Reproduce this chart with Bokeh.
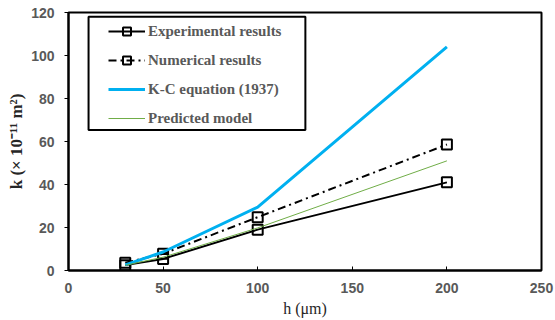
from bokeh.plotting import figure
from bokeh.models import Legend, LegendItem, Range1d, FixedTicker, BoxAnnotation
from bokeh.embed import file_html
from bokeh.resources import INLINE

h = [30, 50, 100, 200]
experimental = [2.5, 5.4, 19.0, 41.0]
numerical = [3.6, 7.8, 24.8, 58.6]
kc_equation = [2.6, 8.6, 29.5, 104.0]
predicted = [2.4, 6.2, 19.8, 51.0]

x_ticks = [0, 50, 100, 150, 200, 250]
y_ticks = [0, 20, 40, 60, 80, 100, 120]

p = figure(width=555, height=320, output_backend="svg", toolbar_location=None,
           x_range=Range1d(0, 250), y_range=Range1d(0, 120),
           min_border_left=68, min_border_right=14, min_border_top=12, min_border_bottom=50)
p.grid.visible = False
p.outline_line_color = "black"
p.outline_line_width = 2
p.background_fill_color = "white"
p.border_fill_color = "white"

r_exp_line = p.line(h, experimental, line_color="black", line_width=2)
r_exp_sq = p.scatter(h, experimental, marker="square", size=10, fill_color=None, line_color="black", line_width=2)
r_num_line = p.line(h, numerical, line_color="black", line_width=2, line_dash="8 4 2 4")
r_num_sq = p.scatter(h, numerical, marker="square", size=10, fill_color=None, line_color="black", line_width=2)
r_kc = p.line(h, kc_equation, line_color="#00B0F0", line_width=3)
r_pred = p.line(h, predicted, line_color="#70AD47", line_width=1)

for ax in (p.xaxis[0], p.yaxis[0]):
    ax.axis_line_color = "black"
    ax.axis_line_width = 2
    ax.major_tick_line_color = "black"
    ax.major_tick_line_width = 1
    ax.minor_tick_line_color = None
    ax.major_label_text_font = "Liberation Sans"
    ax.major_label_text_font_style = "bold"
    ax.major_label_text_font_size = "14px"
    ax.major_label_text_color = "#595959"
    ax.axis_label_text_font = "Liberation Serif"
    ax.axis_label_text_color = "#262626"

p.xaxis.ticker = FixedTicker(ticks=x_ticks)
p.yaxis.ticker = FixedTicker(ticks=y_ticks)
p.xaxis.major_tick_in = 4
p.xaxis.major_tick_out = 0
p.yaxis.major_tick_in = 0
p.yaxis.major_tick_out = 4
p.xaxis.major_label_standoff = 12
p.yaxis.major_label_standoff = 10
p.xaxis.axis_label = "h (μm)"
p.yaxis.axis_label = "k (× 10⁻¹¹ m²)"
p.yaxis.axis_label_text_font_style = "bold"
p.xaxis.axis_label_text_font_style = "normal"
p.yaxis.axis_label_text_font_size = "17px"
p.xaxis.axis_label_text_font_size = "16px"
p.xaxis.axis_label_standoff = 4
p.yaxis.axis_label_standoff = 2

# legend frame
p.add_layout(BoxAnnotation(left=10.6, right=125.2, bottom=65.4, top=118.0,
                           fill_color="white", fill_alpha=1,
                           line_color="black", line_width=2, line_alpha=1))

legend = Legend(items=[
    LegendItem(label="Experimental results", renderers=[r_exp_line, r_exp_sq]),
    LegendItem(label="Numerical results", renderers=[r_num_line, r_num_sq]),
    LegendItem(label="K-C equation (1937)", renderers=[r_kc]),
    LegendItem(label="Predicted model", renderers=[r_pred]),
], location=(40, 142))
legend.border_line_color = None
legend.background_fill_alpha = 0
legend.label_text_font = "Liberation Serif"
legend.label_text_font_style = "bold"
legend.label_text_font_size = "15px"
legend.label_text_color = "#595959"
legend.glyph_width = 37
legend.glyph_height = 20
legend.label_height = 20
legend.spacing = 9
legend.padding = 0
legend.margin = 0
legend.label_standoff = 3
p.add_layout(legend)

open("out.html", "w").write(file_html(p, INLINE))
